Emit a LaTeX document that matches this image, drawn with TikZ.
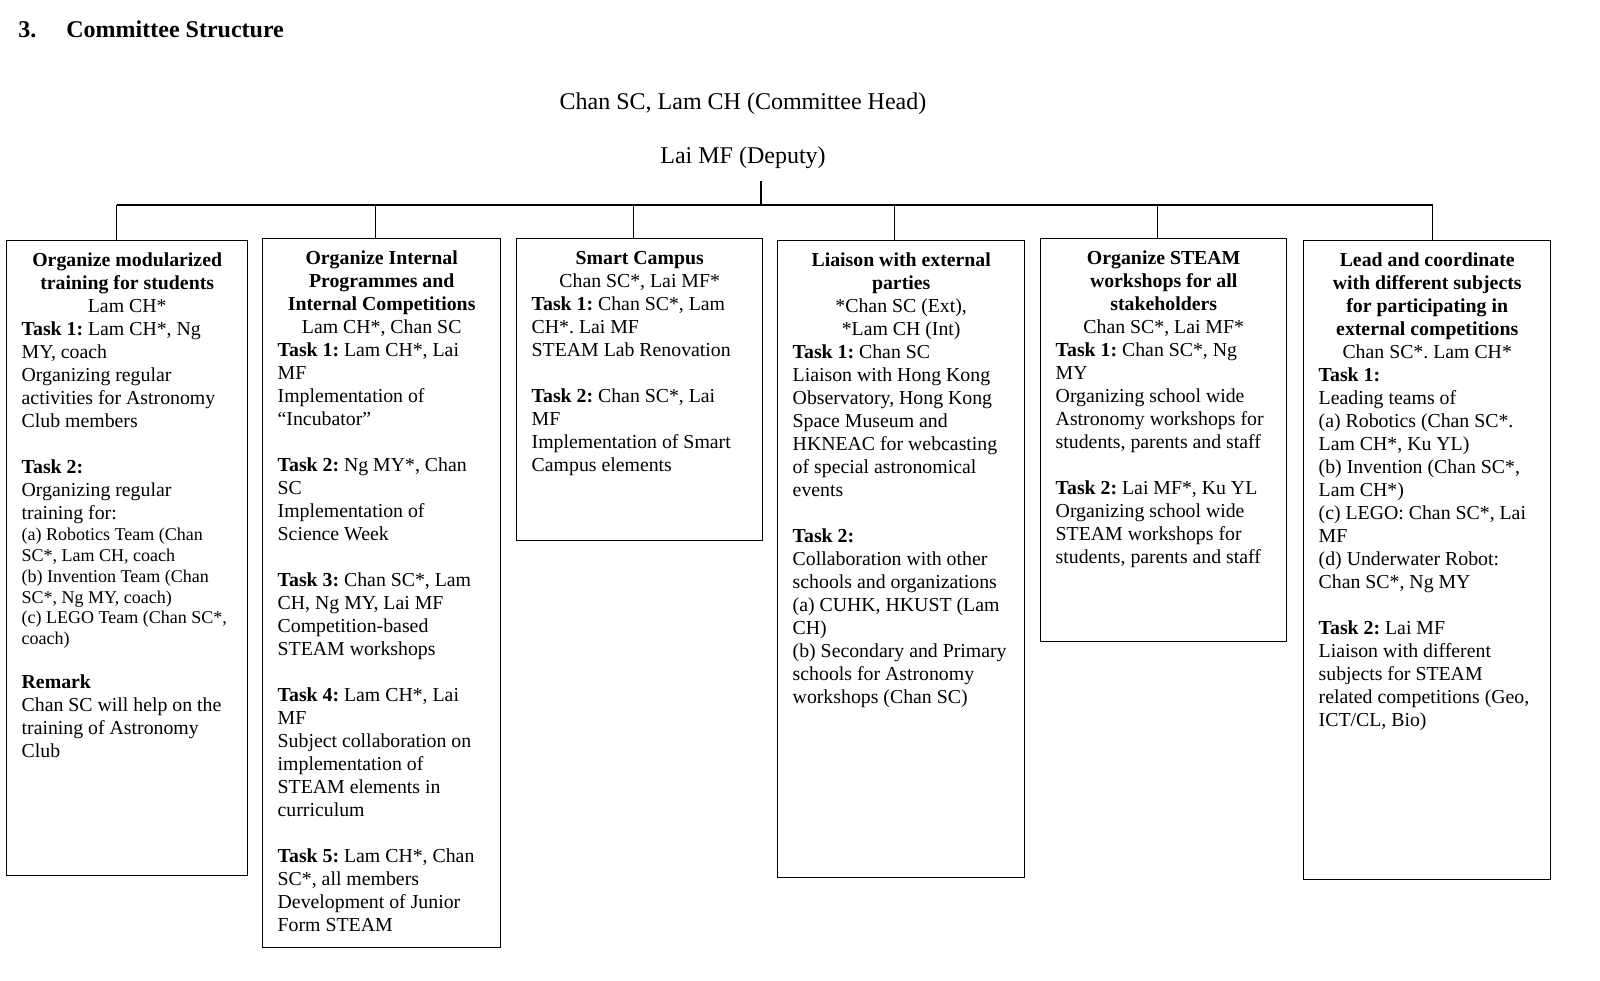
\documentclass[tikz,border=0pt]{standalone}
\usepackage{fontspec}
\setmainfont{Liberation Serif}
\frenchspacing

\newcommand{\boxhead}[1]{{\centering\bfseries\strut #1\par}}
\newcommand{\boxwho}[1]{{\centering #1\par}}
\newcommand{\task}[1]{\textbf{#1}}
\newcommand{\boxtext}[3]{\parbox[t][#1][t]{#2}{\fontsize{9.9}{11.5}\selectfont #3}}
\newcommand{\smalllist}{\fontsize{9}{10.4}\selectfont}

\tikzset{taskbox/.style={draw, line width=0.7pt, anchor=north west, inner xsep=7.5pt, inner ysep=5pt}}

\begin{document}
\begin{tikzpicture}[x=0.5pt, y=-0.5pt]
			\useasboundingbox (0,0) rectangle (1600,980);
			
			%Title
			\node[anchor=base west, inner sep=0] (num) at (18,37) {\fontsize{12}{14}\selectfont\bfseries 3.};
			\node[anchor=base west, inner sep=0] (title) at (66,37) {\fontsize{12}{14}\selectfont\bfseries Committee Structure};
			
			%Heads
			\node (head) at (743,104) {\fontsize{12}{14}\selectfont Chan SC, Lam CH (Committee Head)};
			\node (dep) at (743,158) {\fontsize{12}{14}\selectfont Lai MF (Deputy)};
			
			%One task box
			\node[taskbox] (b1) at (6,240) {\boxtext{307.5pt}{105.5pt}{%
				\boxhead{Organize modularized\\training for students}
				\boxwho{Lam CH*}
				\task{Task 1:} Lam CH*, Ng\\
				MY, coach\\
				Organizing regular\\
				activities for Astronomy\\
				Club members\\[11.5pt]
				\task{Task 2:}\\
				Organizing regular\\
				training for:\par
				{\smalllist (a) Robotics Team (Chan\\
				SC*, Lam CH, coach\\
				(b) Invention Team (Chan\\
				SC*, Ng MY, coach)\\
				(c) LEGO Team (Chan SC*,\\
				coach)\par}
				\vspace{10.5pt}
				\task{Remark}\\
				Chan SC will help on the\\
				training of Astronomy\\
				Club}};
			
			%One task box
			\node[taskbox] (b2) at (262,238) {\boxtext{344.5pt}{104pt}{%
				\boxhead{Organize Internal\\Programmes and\\Internal Competitions}
				\boxwho{Lam CH*, Chan SC}
				\task{Task 1:} Lam CH*, Lai\\
				MF\\
				Implementation of\\
				“Incubator”\\[11.5pt]
				\task{Task 2:} Ng MY*, Chan\\
				SC\\
				Implementation of\\
				Science Week\\[11.5pt]
				\task{Task 3:} Chan SC*, Lam\\
				CH, Ng MY, Lai MF\\
				Competition-based\\
				STEAM workshops\\[11.5pt]
				\task{Task 4:} Lam CH*, Lai\\
				MF\\
				Subject collaboration on\\
				implementation of\\
				STEAM elements in\\
				curriculum\\[11.5pt]
				\task{Task 5:} Lam CH*, Chan\\
				SC*, all members\\
				Development of Junior\\
				Form STEAM}};
			
			%One task box
			\node[taskbox] (b3) at (516,238) {\boxtext{141pt}{108pt}{%
				\boxhead{Smart Campus}
				\boxwho{Chan SC*, Lai MF*}
				\task{Task 1:} Chan SC*, Lam\\
				CH*. Lai MF\\
				STEAM Lab Renovation\\[11.5pt]
				\task{Task 2:} Chan SC*, Lai\\
				MF\\
				Implementation of Smart\\
				Campus elements}};
			
			%One task box
			\node[taskbox] (b4) at (777,240) {\boxtext{308.5pt}{108.5pt}{%
				\boxhead{Liaison with external\\parties}
				\boxwho{*Chan SC (Ext),\\{}*Lam CH (Int)}
				\task{Task 1:} Chan SC\\
				Liaison with Hong Kong\\
				Observatory, Hong Kong\\
				Space Museum and\\
				HKNEAC for webcasting\\
				of special astronomical\\
				events\\[11.5pt]
				\task{Task 2:}\\
				Collaboration with other\\
				schools and organizations\\
				(a) CUHK, HKUST (Lam\\
				CH)\\
				(b) Secondary and Primary\\
				schools for Astronomy\\
				workshops (Chan SC)}};
			
			%One task box
			\node[taskbox] (b5) at (1040,238) {\boxtext{191.5pt}{108pt}{%
				\boxhead{Organize STEAM\\workshops for all\\stakeholders}
				\boxwho{Chan SC*, Lai MF*}
				\task{Task 1:} Chan SC*, Ng\\
				MY\\
				Organizing school wide\\
				Astronomy workshops for\\
				students, parents and staff\\[11.5pt]
				\task{Task 2:} Lai MF*, Ku YL\\
				Organizing school wide\\
				STEAM workshops for\\
				students, parents and staff}};
			
			%One task box
			\node[taskbox] (b6) at (1303,240) {\boxtext{309.5pt}{108.5pt}{%
				\boxhead{Lead and coordinate\\with different subjects\\for participating in\\external competitions}
				\boxwho{Chan SC*. Lam CH*}
				\task{Task 1:}\\
				Leading teams of\\
				(a) Robotics (Chan SC*.\\
				Lam CH*, Ku YL)\\
				(b) Invention (Chan SC*,\\
				Lam CH*)\\
				(c) LEGO: Chan SC*, Lai\\
				MF\\
				(d) Underwater Robot:\\
				Chan SC*, Ng MY\\[11.5pt]
				\task{Task 2:} Lai MF\\
				Liaison with different\\
				subjects for STEAM\\
				related competitions (Geo,\\
				ICT/CL, Bio)}};
			
			%Connectors
			\coordinate (top) at (761,181);
			\coordinate (bus) at (761,205);
			\draw[line width=0.7pt] (top) -- (bus);
			\draw[line width=0.7pt] ([xshift=-5.25pt]b1.north |- bus) -- ([xshift=2.75pt]b6.north |- bus);
			\foreach \b/\s in {b1/-5.25, b2/-3, b3/-3, b4/-3.25, b5/-3, b6/2.75}
				\draw[line width=0.7pt] ([xshift=\s pt]\b.north) -- ([xshift=\s pt]\b.north |- bus);
			
\end{tikzpicture}
\end{document}
